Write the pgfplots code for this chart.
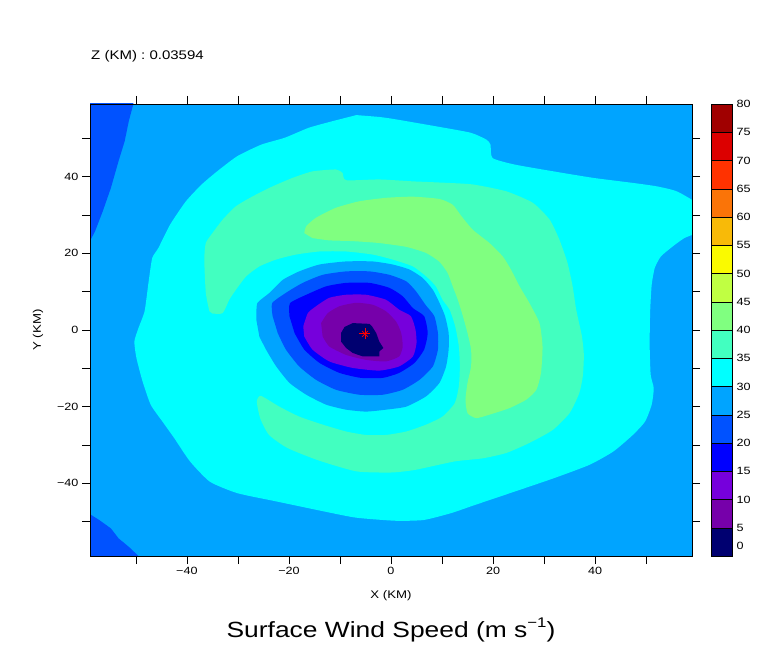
\documentclass[border=0pt]{standalone}
\usepackage{fontspec}
\setmainfont{Liberation Sans}[FakeStretch=1.2]
\usepackage{pgfplots}
\pgfplotsset{compat=1.18}

% shading levels, 0-5 ... 75-80
\definecolor{c00}{RGB}{0,0,112}
\definecolor{c05}{RGB}{118,0,170}
\definecolor{c10}{RGB}{118,0,220}
\definecolor{c15}{RGB}{0,0,255}
\definecolor{c20}{RGB}{0,82,255}
\definecolor{c25}{RGB}{0,164,255}
\definecolor{c30}{RGB}{0,255,255}
\definecolor{c35}{RGB}{66,255,192}
\definecolor{c40}{RGB}{128,255,128}
\definecolor{c45}{RGB}{192,255,66}
\definecolor{c50}{RGB}{250,250,0}
\definecolor{c55}{RGB}{248,186,8}
\definecolor{c60}{RGB}{250,116,8}
\definecolor{c65}{RGB}{255,50,0}
\definecolor{c70}{RGB}{220,0,0}
\definecolor{c75}{RGB}{160,0,0}

\begin{document}
\begin{tikzpicture}[x=1pt,y=1pt]
\path[use as bounding box] (0pt,0pt) rectangle (768pt,662pt);

\begin{axis}[at={(90pt,106pt)}, anchor=south west, scale only axis,
  width=602pt, height=452pt,
  xmin=-59, xmax=59, ymin=-59, ymax=59,
  axis on top, axis line style={line width=0.8pt},
  axis background/.style={fill=c25},
  tick align=outside, tick pos=both,
  major tick length=8pt, minor tick length=8pt,
  every tick/.style={black, line width=0.8pt},
  xtick={-40,-20,0,20,40}, xticklabels={−40,−20,0,20,40},
  minor xtick={-50,-30,-10,10,30,50},
  ytick={-40,-20,0,20,40}, yticklabels={−40,−20,0,20,40},
  minor ytick={-50,-30,-10,10,30,50},
  ticklabel style={font=\fontsize{10.5}{12}\selectfont},
  xlabel={X (KM)}, ylabel={Y (KM)},
  label style={font=\fontsize{11}{13}\selectfont},
  xlabel style={at={(axis description cs:0.5,-0.0885)}, anchor=center},
  ylabel style={at={(axis description cs:-0.0864,0.5)}, anchor=center},
  lev/.style={fill=#1, draw=none, smooth, tension=0.35},
]
% 20-25 corners
\addplot[fill=c20, draw=none] coordinates {(-60,60)(-50.5,60)(-50.5,59)(-51.4,54.5)(-52.2,49.3)(-53.4,44.1)(-54.9,37.1)(-56.5,31.0)(-58.0,25.8)(-59,23.2)(-60,22.5)} -- cycle;
\addplot[fill=c20, draw=none] coordinates {(-60,-47.5)(-59,-48.1)(-57.2,-49.6)(-54.9,-51.8)(-53.4,-54.4)(-51.4,-56.6)(-49.5,-59)(-49,-60)(-60,-60)} -- cycle;
% 30-35
\addplot[lev=c30] coordinates {(-6.8,56.1)(-2.2,55.6)(0.9,55.0)(8.7,53.2)(15.6,51.5)(18.7,49.7)(19.5,48.4)(19.9,44.9)(24.2,43.2)(31.9,41.4)(39.7,39.7)(47.4,38.4)(52.1,37.5)(56.0,36.2)(60,33.0)(61,29)(60,25.5)(57.5,24.0)(55.2,21.8)(52.9,19.2)(51.7,16.2)(51.1,11.8)(50.8,4.9)(50.7,-3.9)(50.9,-11.7)(51.5,-15.2)(51.1,-19.5)(49.8,-23.9)(47.4,-27.4)(43.6,-31.7)(38.9,-35.2)(31.9,-38.7)(24.2,-42.2)(16.4,-45.7)(11.8,-47.8)(6.4,-49.6)(0.9,-49.8)(-6.8,-49.0)(-13.0,-47.4)(-22.3,-44.8)(-30.1,-42.6)(-35.5,-39.6)(-39.4,-34.3)(-42.5,-28.2)(-44.8,-23.9)(-47.1,-19.5)(-48.7,-13.4)(-49.9,-7.3)(-50.3,-3.0)(-49.5,0.5)(-48.3,4.9)(-47.5,12.7)(-46.8,18.8)(-45.6,21.4)(-43.3,27.5)(-40.2,33.6)(-37.1,38.0)(-34.0,41.5)(-30.1,45.4)(-25.4,48.4)(-20.8,50.2)(-16.1,52.8)(-11.5,54.5)} -- cycle;
% 35-40
\addplot[lev=c35] coordinates {(-35.6,4.9)(-36.3,9.7)(-36.6,18.4)(-36.3,22.7)(-35.0,25.3)(-33.0,28.8)(-30.4,32.3)(-27.1,34.9)(-23.2,37.5)(-19.3,39.7)(-15.4,41.4)(-10.8,41.9)(-9.5,41.0)(-8.8,39.1)(-2.3,39.3)(4.3,38.8)(9.5,38.5)(16.0,38.0)(22.6,36.2)(27.8,33.2)(31.1,28.8)(33.0,23.6)(34.6,17.5)(35.6,11.4)(36.3,5.3)(37.4,-1.5)(37.8,-6.5)(37.6,-12.0)(36.9,-16.5)(35.0,-21.7)(31.7,-26.1)(27.1,-29.5)(22.6,-32.1)(18.0,-33.5)(12.5,-34.3)(4.8,-36.5)(0.1,-37.2)(-6.8,-36.9)(-14.3,-34.0)(-20.3,-30.8)(-23.9,-27.4)(-25.6,-23.2)(-26.3,-18.7)(-25.5,-17.2)(-21.9,-20.0)(-18.0,-22.6)(-13.4,-24.7)(-8.8,-26.5)(-4.9,-27.4)(-1.0,-27.4)(3.0,-26.5)(6.9,-24.7)(10.1,-22.6)(12.5,-19.1)(13.3,-14.7)(13.5,-9.5)(13.3,-4.3)(12.6,0.9)(11.5,5.3)(10.1,7.9)(8.8,11.4)(6.9,14.0)(4.3,16.6)(0.3,18.4)(-3.6,19.7)(-8.8,20.5)(-14.0,20.5)(-18.6,19.7)(-22.5,18.4)(-25.8,16.6)(-28.4,14.0)(-30.4,10.5)(-31.7,7.9)(-33.0,4.4)(-35.0,4.3)} -- cycle;
% 40-45
\addplot[lev=c40] coordinates {(-17.0,25.3)(-16.6,27.1)(-14.7,29.3)(-10.8,31.9)(-6.2,33.6)(-1.0,34.5)(4.3,34.8)(9.5,34.2)(12.1,32.7)(13.7,29.9)(16.0,26.2)(19.3,22.7)(21.9,19.2)(23.5,15.8)(25.2,11.4)(27.1,7.1)(29.1,1.8)(29.7,-4.3)(29.4,-11.2)(28.5,-15.6)(26.5,-18.2)(23.2,-20.4)(19.3,-22.1)(16.7,-23.0)(15.0,-21.7)(14.6,-18.2)(15.0,-13.8)(15.7,-9.5)(15.7,-5.1)(15.0,-0.8)(14.1,3.6)(13.1,7.9)(12.1,11.4)(11.1,14.9)(9.5,17.8)(6.9,20.1)(3.0,21.7)(-2.3,22.7)(-7.5,23.2)(-12.1,23.4)(-15.4,24.0)} -- cycle;
% eye: 25-30
\addplot[lev=c25] coordinates {(-26.4,2.7)(-26.2,7.0)(-23.8,9.7)(-21.2,13.1)(-18.0,15.3)(-14.0,17.1)(-8.8,17.9)(-3.6,17.9)(0.3,17.1)(3.6,15.8)(6.2,13.6)(8.2,10.5)(9.5,7.1)(10.6,3.6)(11.3,-0.8)(11.3,-5.1)(10.8,-9.5)(9.5,-13.8)(6.9,-17.3)(3.0,-20.0)(-1.0,-20.8)(-4.9,-21.3)(-8.8,-20.8)(-12.7,-19.5)(-16.6,-16.9)(-19.9,-13.8)(-22.5,-9.5)(-24.5,-5.1)(-25.8,-1.7)} -- cycle;
% 20-25
\addplot[lev=c20] coordinates {(-23.2,3.6)(-23.3,7.0)(-20.6,9.7)(-17.3,12.3)(-13.4,14.4)(-8.8,15.3)(-4.2,15.3)(-0.3,14.4)(3.0,12.7)(4.9,10.1)(6.8,6.5)(8.5,3.6)(9.2,-0.8)(9.2,-5.1)(8.2,-9.5)(5.6,-13.0)(2.3,-15.6)(-1.6,-16.9)(-6.2,-16.9)(-10.8,-15.6)(-14.7,-13.0)(-18.0,-9.5)(-20.6,-5.1)(-22.2,-0.8)} -- cycle;
% 15-20
\addplot[lev=c15] coordinates {(-19.9,3.6)(-19.8,7.0)(-16.6,9.2)(-12.7,11.4)(-8.8,12.3)(-4.2,12.3)(-0.3,11.0)(2.3,8.8)(4.3,5.7)(6.5,3.6)(7.2,-0.8)(6.5,-5.1)(4.6,-8.6)(1.6,-11.2)(-1.6,-12.5)(-5.9,-12.5)(-10.1,-11.2)(-14.0,-8.6)(-17.0,-5.1)(-18.9,-0.8)} -- cycle;
% 10-15
\addplot[lev=c10] coordinates {(-17.2,0.9)(-16.3,4.4)(-14.7,6.2)(-12.1,8.4)(-8.8,9.2)(-4.9,9.2)(-1.0,7.9)(1.6,5.3)(3.9,3.6)(4.8,0.1)(5.0,-3.4)(4.3,-6.9)(1.6,-9.5)(-2.3,-10.6)(-7.5,-9.9)(-12.1,-8.2)(-15.4,-5.1)(-17.0,-1.7)} -- cycle;
% 5-10
\addplot[lev=c05] coordinates {(-13.7,1.8)(-12.4,4.4)(-10.1,6.2)(-6.8,7.1)(-3.6,6.6)(-1.0,4.9)(1.0,2.2)(2.0,-0.8)(2.3,-4.3)(1.6,-6.9)(-1.0,-8.2)(-4.9,-7.8)(-8.8,-6.5)(-12.1,-4.3)(-13.4,-1.7)} -- cycle;
% 0-5
\addplot[fill=c00, draw=none] coordinates {(-9.8,-0.8)(-9.1,0.8)(-7.5,1.8)(-4.2,1.6)(-3.7,0.9)(-2.9,-0.8)(-2.3,-3.0)(-1.5,-4.7)(-2.3,-5.6)(-2.3,-6.9)(-5.5,-6.9)(-7.5,-6.0)(-8.8,-4.7)(-9.8,-3.0)} -- cycle;
% storm centre
\addplot[only marks, mark=+, mark size=5.5pt, red, mark options={line width=0.7pt}] coordinates {(-5.1,-1.0)};
\addplot[only marks, mark=x, mark size=4pt, red, mark options={line width=0.7pt}] coordinates {(-5.1,-1.0)};
\end{axis}

% colour bar
\begin{axis}[at={(711pt,106pt)}, anchor=south west, scale only axis,
  width=21pt, height=452pt,
  xmin=0, xmax=1, ymin=0, ymax=80,
  axis on top, axis line style={line width=0.8pt},
  xtick=\empty, ytick pos=right, yticklabel pos=right,
  major tick length=0pt,
  ytick={1.85,5,10,15,20,25,30,35,40,45,50,55,60,65,70,75,80},
  yticklabels={0,5,10,15,20,25,30,35,40,45,50,55,60,65,70,75,80},
  yticklabel style={font=\fontsize{10.5}{12}\selectfont, anchor=west, xshift=1pt},
]
\addplot[fill=c00, draw=black] coordinates {(0,0)(1,0)(1,5)(0,5)} -- cycle;
\addplot[fill=c05, draw=black] coordinates {(0,5)(1,5)(1,10)(0,10)} -- cycle;
\addplot[fill=c10, draw=black] coordinates {(0,10)(1,10)(1,15)(0,15)} -- cycle;
\addplot[fill=c15, draw=black] coordinates {(0,15)(1,15)(1,20)(0,20)} -- cycle;
\addplot[fill=c20, draw=black] coordinates {(0,20)(1,20)(1,25)(0,25)} -- cycle;
\addplot[fill=c25, draw=black] coordinates {(0,25)(1,25)(1,30)(0,30)} -- cycle;
\addplot[fill=c30, draw=black] coordinates {(0,30)(1,30)(1,35)(0,35)} -- cycle;
\addplot[fill=c35, draw=black] coordinates {(0,35)(1,35)(1,40)(0,40)} -- cycle;
\addplot[fill=c40, draw=black] coordinates {(0,40)(1,40)(1,45)(0,45)} -- cycle;
\addplot[fill=c45, draw=black] coordinates {(0,45)(1,45)(1,50)(0,50)} -- cycle;
\addplot[fill=c50, draw=black] coordinates {(0,50)(1,50)(1,55)(0,55)} -- cycle;
\addplot[fill=c55, draw=black] coordinates {(0,55)(1,55)(1,60)(0,60)} -- cycle;
\addplot[fill=c60, draw=black] coordinates {(0,60)(1,60)(1,65)(0,65)} -- cycle;
\addplot[fill=c65, draw=black] coordinates {(0,65)(1,65)(1,70)(0,70)} -- cycle;
\addplot[fill=c70, draw=black] coordinates {(0,70)(1,70)(1,75)(0,75)} -- cycle;
\addplot[fill=c75, draw=black] coordinates {(0,75)(1,75)(1,80)(0,80)} -- cycle;
\end{axis}

\node[anchor=base west, font=\fontsize{12.5}{14}\selectfont, inner sep=0pt] at (91pt,602.5pt) {Z (KM) : 0.03594};
\node[anchor=base, font=\fontsize{22}{26}\selectfont] at (391pt,25pt)
  {Surface Wind Speed (m s\raisebox{0.42em}{\fontsize{14}{16}\selectfont −1})};
\end{tikzpicture}
\end{document}
